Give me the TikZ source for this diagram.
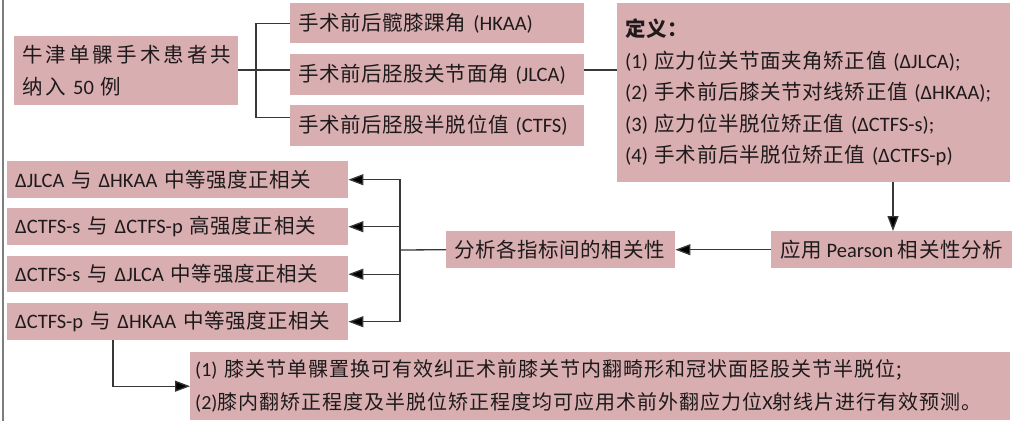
\documentclass[tikz,border=0pt]{standalone}
\usepackage{fontspec}
\setmainfont{Carlito}
\newfontfamily\cjk[LetterSpace=3]{Noto Sans CJK SC}
\newfontfamily\cjkwide[LetterSpace=15]{Noto Sans CJK SC}
\newfontfamily\cjkfin[LetterSpace=5]{Noto Sans CJK SC}
\newcommand\zh[1]{{\cjk #1}}
\newcommand\zhw[1]{{\cjkwide #1}}
\newcommand\zhf[1]{{\cjkfin #1}}
\usetikzlibrary{arrows.meta,calc}
\definecolor{boxc}{RGB}{217,174,176}
\definecolor{linec}{RGB}{55,55,55}
\definecolor{txtc}{RGB}{30,26,27}
\definecolor{framec}{RGB}{125,125,125}
\tikzset{
  box/.style={fill=boxc, anchor=north west, inner xsep=8pt, inner ysep=0pt, align=left, text=txtc, font=\fontsize{20.5}{31.5}\selectfont},
  conn/.style={draw=linec, line width=1.3pt},
  arr/.style={conn, -{Triangle[length=15pt,width=11pt,fill=black]}},
}
\begin{document}
\begin{tikzpicture}[x=1pt,y=-1pt]
\useasboundingbox (0,0) rectangle (1015,424);
\draw[framec, line width=1.5pt] (3,0) -- (3,421);
% boxes
\node[box, text width=208pt, minimum height=69pt] (A) at (14,36) {\zhw{牛津单髁手术患者共}\\\zhw{纳入} 50 \zhw{例}};
\node[box, text width=278pt, minimum height=40pt] (HKAA) at (290,3) {\zh{手术前后髋膝踝角} (HKAA)};
\node[box, text width=278pt, minimum height=41pt] (JLCA) at (290,54) {\zh{手术前后胫股关节面角} (JLCA)};
\node[box, text width=278pt, minimum height=41pt] (CTFS) at (290,105) {\zh{手术前后胫股半脱位值} (CTFS)};
\node[box, text width=377pt, minimum height=179pt] (Def) at (617,3) {{\bfseries\zh{定义：}}\\
(1) \zh{应力位关节面夹角矫正值} (ΔJLCA);\\
(2) \zh{手术前后膝关节对线矫正值} (ΔHKAA);\\
(3) \zh{应力位半脱位矫正值} (ΔCTFS-s);\\
(4) \zh{手术前后半脱位矫正值} (ΔCTFS-p)};
\node[box, inner xsep=3pt, minimum width=241pt, minimum height=37pt] (Pearson) at (771,231) {\zh{应用} Pearson \zh{相关性分析}};
\node[box, text width=213pt, minimum height=37pt] (Ana) at (446,231) {\zh{分析各指标间的相关性}};
\node[box, text width=325pt, minimum height=37pt] (R1) at (7,161) {ΔJLCA \zh{与} ΔHKAA \zh{中等强度正相关}};
\node[box, text width=325pt, minimum height=37pt] (R2) at (7,208) {ΔCTFS-s \zh{与} ΔCTFS-p \zh{高强度正相关}};
\node[box, text width=325pt, minimum height=36pt] (R3) at (7,256) {ΔCTFS-s \zh{与} ΔJLCA \zh{中等强度正相关}};
\node[box, text width=325pt, minimum height=37pt] (R4) at (7,303) {ΔCTFS-p \zh{与} ΔHKAA \zh{中等强度正相关}};
\node[box, inner xsep=5pt, text width=810pt, minimum height=68pt, font=\fontsize{20}{33}\selectfont] (Fin) at (190,352) {(1) \zhf{膝关节单髁置换可有效纠正术前膝关节内翻畸形和冠状面胫股关节半脱位;}\\(2)\zhf{膝内翻矫正程度及半脱位矫正程度均可应用术前外翻应力位}X\zhf{射线片进行有效预测。}};
% connectors
\coordinate (j) at (256,70);
\draw[conn] (A.east |- j) -- (j);
\draw[conn] (HKAA.west) -| (j);
\draw[conn] (j) |- ([yshift=8.5pt]CTFS.west);
\draw[conn] (j) -- (j -| JLCA.west);
\draw[conn] (j -| JLCA.east) -- (j -| Def.west);
\coordinate (d) at (893,0);
\draw[arr] (d |- Def.south) -- (d |- Pearson.north);
\draw[arr] (Pearson.west) -- (Ana.east);
\coordinate (v) at (400,250);
\draw[conn] (Ana.west) -- (v);
\draw[arr] (v) |- (R1.east);
\draw[arr] (v) |- (R2.east);
\draw[arr] (v) |- (R3.east);
\draw[arr] (v) |- (R4.east);
\draw[arr] ([xshift=106pt]R4.south west) |- (Fin.west);
\end{tikzpicture}
\end{document}
